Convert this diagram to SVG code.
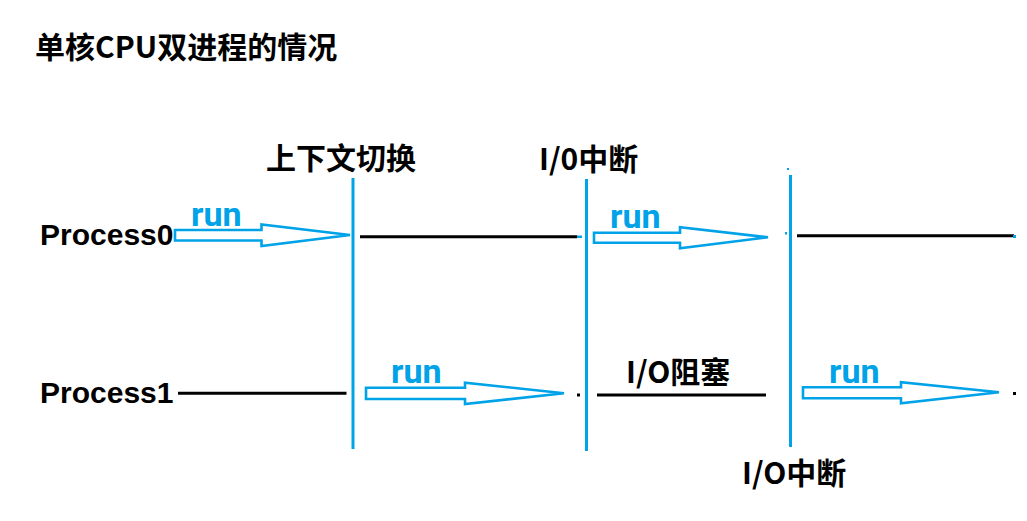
<svg xmlns="http://www.w3.org/2000/svg" width="1027" height="521" viewBox="0 0 1027 521">
<style>
.cjk{font-family:"Noto Sans CJK SC","Liberation Sans",sans-serif;font-weight:bold;font-size:30px;fill:#000}
.proc{font-family:"Liberation Sans",Arial,sans-serif;font-weight:bold;font-size:30px;fill:#000}
.run{font-family:Roboto,"Liberation Sans",sans-serif;font-weight:bold;font-size:34px;fill:#00A2E8}
.div{stroke:#00A2E8;stroke-width:3;fill:none}
.tl{stroke:#000;stroke-width:3;fill:none}
.arr{stroke:#00A2E8;stroke-width:2.6;fill:#fff;stroke-linejoin:miter}
.dot{fill:#00A2E8}
.bdot{fill:#000}
</style>
<rect width="1027" height="521" fill="#fff"/>
<g id="title"><text class="cjk" x="35" y="57.5">单核CPU双进程的情况</text></g>
<g id="process0-label"><text class="proc" x="40" y="245">Process0</text></g>
<g id="process1-label"><text class="proc" x="40" y="402.5">Process1</text></g>
<g id="context-switch"><text class="cjk" x="266" y="168.5">上下文切换</text></g>
<g id="io-interrupt-1"><text class="cjk" x="539" y="169.5">I/0中断</text></g>
<g id="io-block"><text class="cjk" x="626" y="383">I/O阻塞</text></g>
<g id="io-interrupt-2"><text class="cjk" x="742" y="484">I/O中断</text></g>
<g id="dividers">
<line class="div" x1="353" y1="178" x2="353" y2="449"/>
<line class="div" x1="586.5" y1="179" x2="586.5" y2="451"/>
<line class="div" x1="790.5" y1="175" x2="790.5" y2="447"/>
<rect class="dot" x="787" y="168" width="2" height="2"/>
</g>
<g id="connectors">
<line class="tl" x1="360" y1="236.7" x2="577" y2="236.7"/>
<rect class="dot" x="577" y="235.5" width="5" height="2.5"/>
<rect class="dot" x="785" y="232" width="2" height="2.5"/>
<line class="tl" x1="797" y1="235.7" x2="1014" y2="235.7"/>
<rect class="dot" x="1013" y="235" width="3" height="3"/>
<line class="tl" x1="178" y1="393.3" x2="346.5" y2="393.3"/>
<rect class="bdot" x="577" y="393.5" width="3" height="3"/>
<line class="tl" x1="597" y1="395" x2="766" y2="395"/>
<rect class="bdot" x="1013" y="392" width="3" height="3"/>
<polygon class="arr" points="175,230 261.5,230 261.5,224.5 350,235 261.5,246 261.5,240.5 175,240.5"/>
<polygon class="arr" points="594,232.7 680,232.7 680,227.3 768,237.3 680,248.3 680,242.7 594,242.7"/>
<polygon class="arr" points="366,387.7 465,387.7 465,382.7 564,393.3 465,404 465,399 366,399"/>
<polygon class="arr" points="803,387.3 901,387.3 901,382.3 999,392.3 901,403.3 901,398.3 803,398.3"/>
<text class="run" x="191" y="226">run</text>
<text class="run" x="610" y="228">run</text>
<text class="run" x="391" y="383">run</text>
<text class="run" x="829" y="383">run</text>
</g>
</svg>
